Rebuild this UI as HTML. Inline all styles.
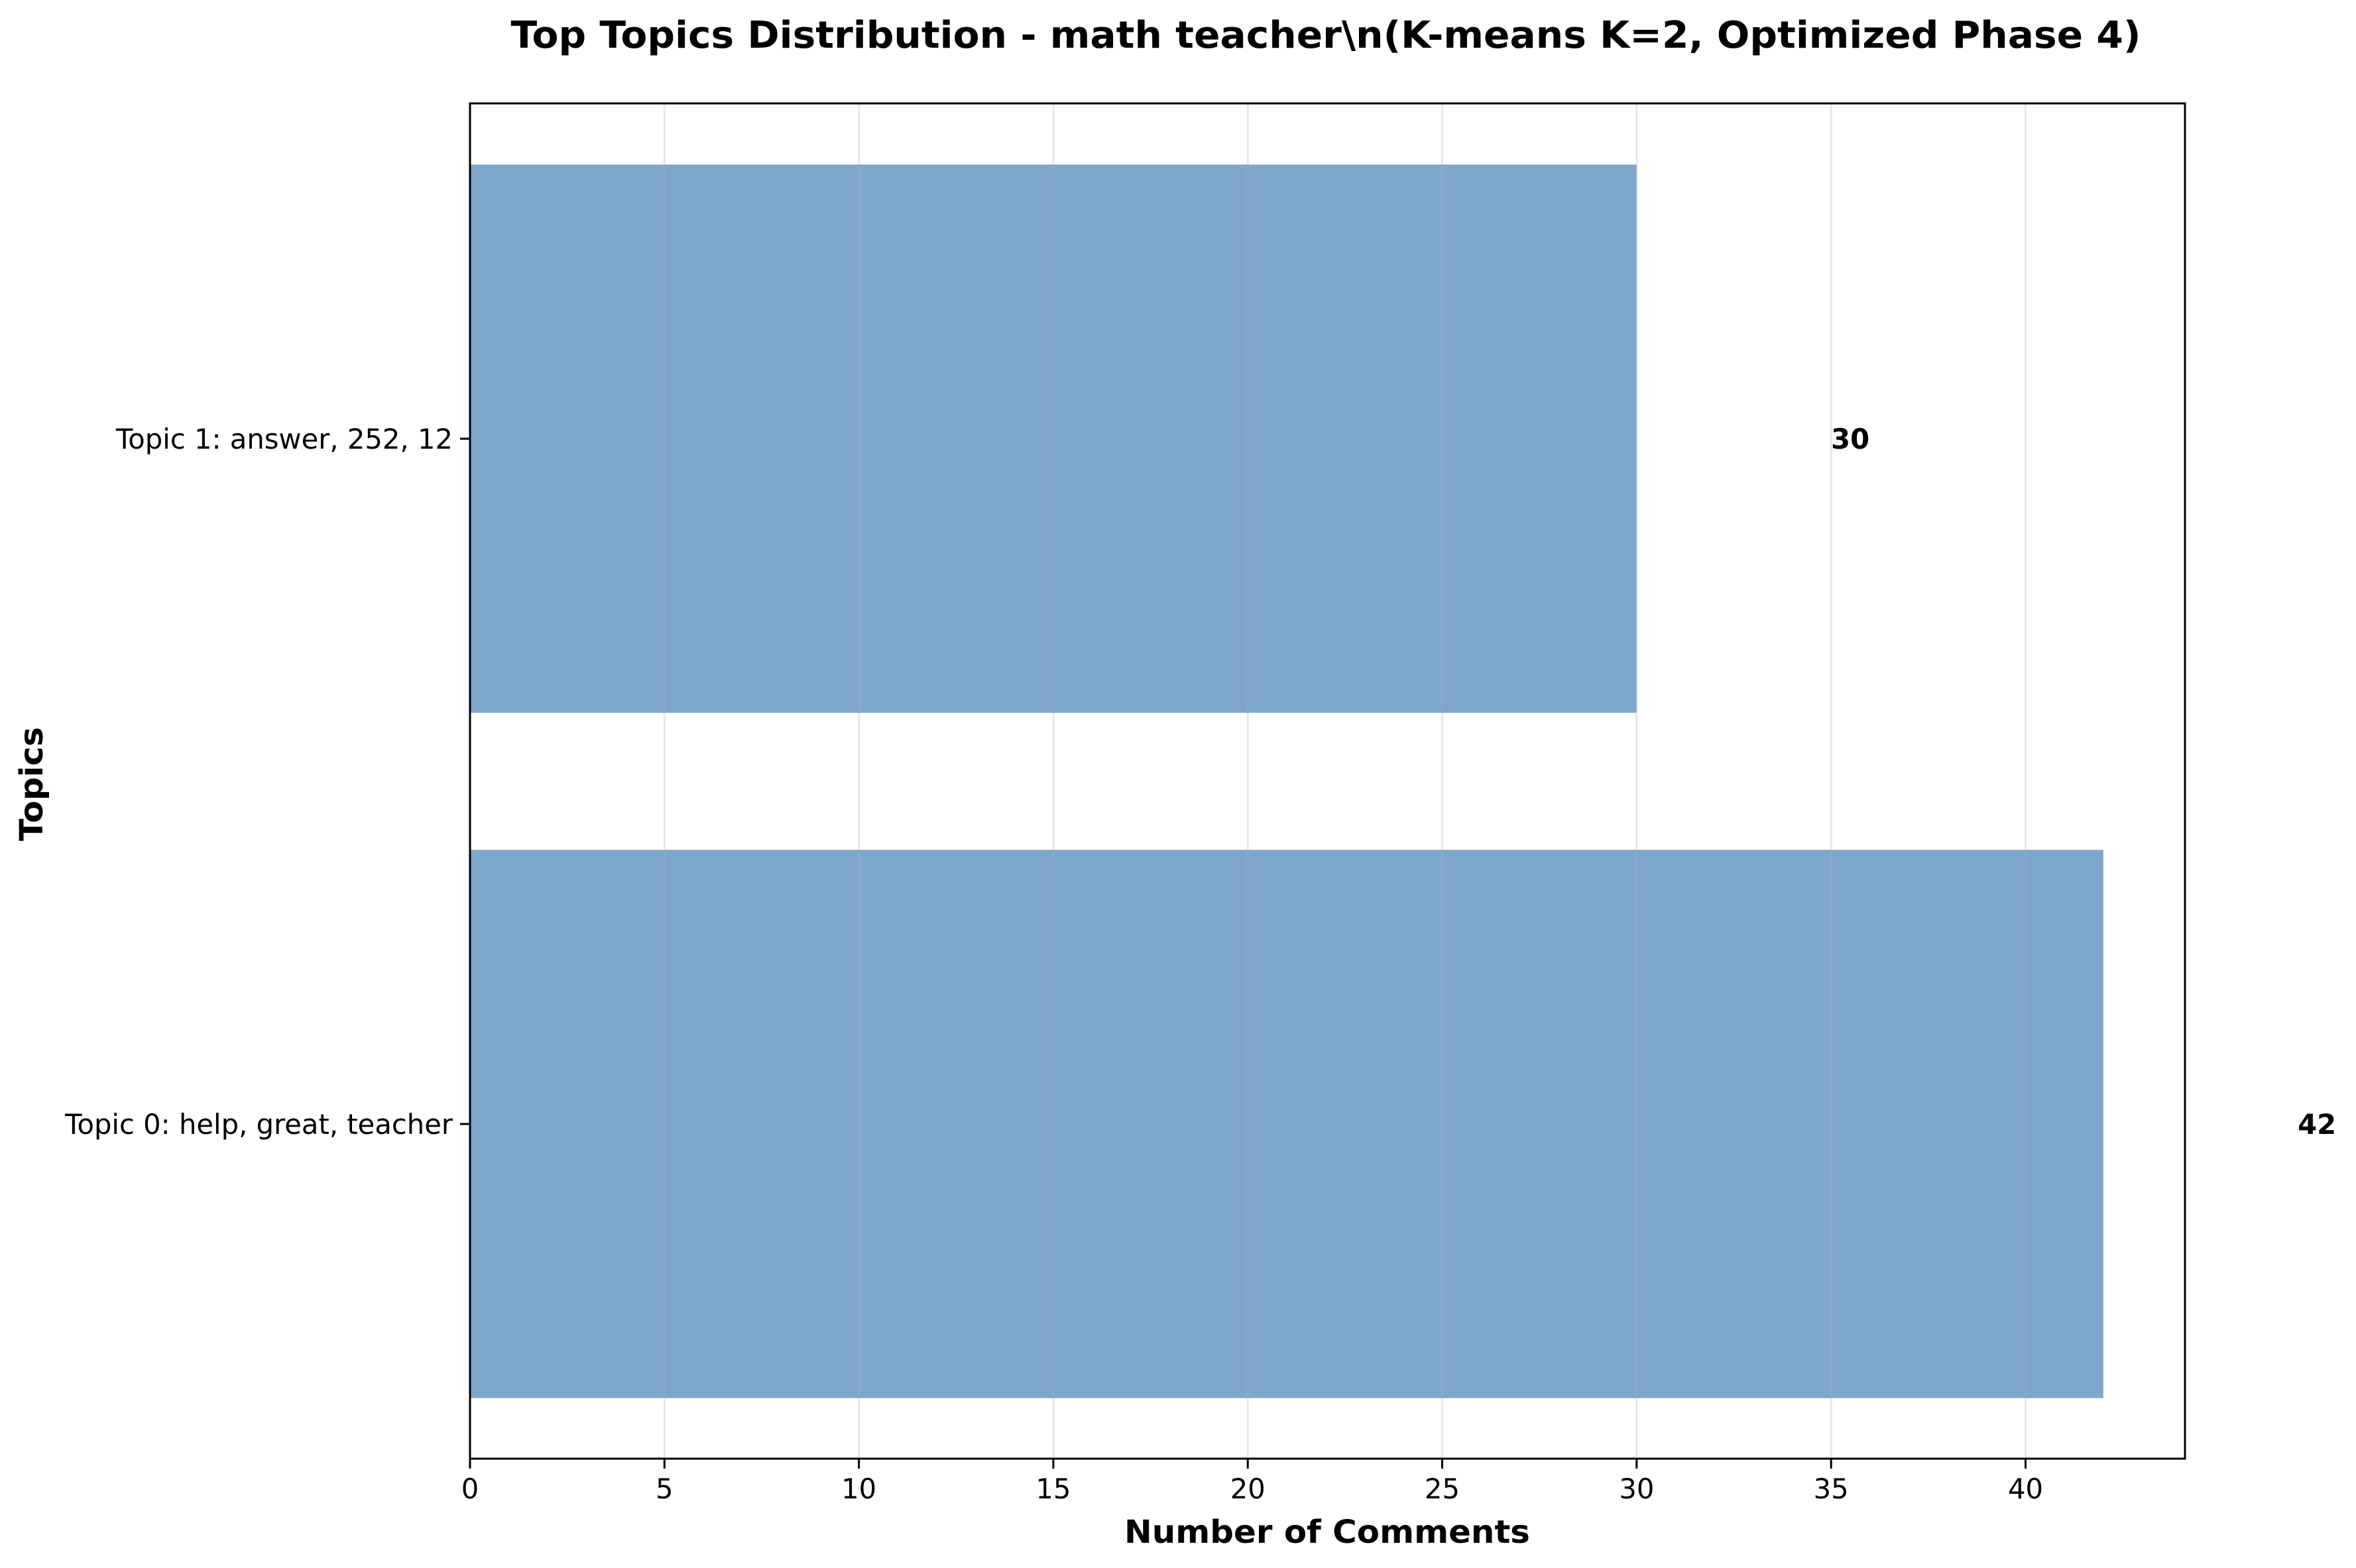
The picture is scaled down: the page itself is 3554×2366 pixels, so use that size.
<!DOCTYPE html>
<html><head><meta charset="utf-8"><style>
body{margin:0;background:#fff;}
svg{display:block;font-family:"DejaVu Sans","Liberation Sans",sans-serif;}
</style></head><body>
<svg id="chart" width="3554" height="2366" viewBox="0 0 3554 2366">
<text x="2000" y="72" text-anchor="middle" font-size="56" font-weight="bold" textLength="2459" lengthAdjust="spacingAndGlyphs">Top Topics Distribution - math teacher\n(K-means K=2, Optimized Phase 4)</text>
<g id="plot"></g>
<text x="2002" y="2328" text-anchor="middle" font-size="48" font-weight="bold" textLength="612" lengthAdjust="spacingAndGlyphs">Number of Comments</text>
<text transform="translate(64,1183) rotate(-90)" text-anchor="middle" font-size="48" font-weight="bold" textLength="172" lengthAdjust="spacingAndGlyphs">Topics</text>
</svg>
<script>
const categories = ["Topic 0: help, great, teacher", "Topic 1: answer, 252, 12"];
const values = [42, 30];
const xTicks = [0, 5, 10, 15, 20, 25, 30, 35, 40];
const L=709, R=3296, T=156, B=2201;
const xmax = 44.1;
const x = v => L + (R-L)*v/xmax;
const yc = i => 1696 - i*1034;
const bandH = 1034;
const ns="http://www.w3.org/2000/svg";
const g=document.getElementById('plot');
function mk(t,a){const e=document.createElementNS(ns,t);for(const k in a)e.setAttribute(k,a[k]);g.appendChild(e);return e;}
values.forEach((v,i)=>{
  const r=mk('rect',{x:x(0),y:yc(i)-0.4*bandH,width:x(v)-x(0),height:0.8*bandH,fill:'#7da7cb'});
  
  
});
xTicks.forEach(t=>{
  const l=mk('line',{x1:x(t),x2:x(t),y1:T,y2:B,stroke:'#b0b0b0','stroke-opacity':0.3,'stroke-width':3});
  
  
  const tk=mk('line',{x1:x(t),x2:x(t),y1:B,y2:B+15,stroke:'#000','stroke-width':3});
  
  
  const tx=mk('text',{x:x(t),y:B+60,'text-anchor':'middle','font-size':41.7});
  tx.textContent=t;
  
  
});
categories.forEach((c,i)=>{
  const tk=mk('line',{x1:L-15,x2:L,y1:yc(i),y2:yc(i),stroke:'#000','stroke-width':3});
  
  
  const tx=mk('text',{x:L-26,y:yc(i)+15,'text-anchor':'end','font-size':41.7});
  tx.textContent=c;
  
  
  const vl=mk('text',{x:x(values[i]+5),y:yc(i)+15,'font-size':41.7,'font-weight':'bold'});
  vl.textContent=values[i];
  
  
});
const fr=mk('rect',{x:L,y:T,width:R-L,height:B-T,fill:'none',stroke:'#000','stroke-width':3});


</script>
</body></html>
